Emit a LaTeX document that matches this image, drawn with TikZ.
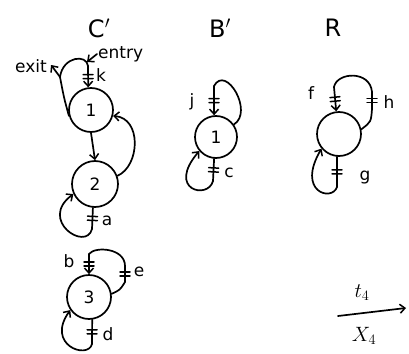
\documentclass[tikz,border=0pt]{standalone}
\usepackage{fontspec}
\setmainfont{DejaVu Sans}
\usetikzlibrary{arrows.meta,decorations.markings}
\tikzset{
  ln/.style={line width=1.7pt, line cap=round, line join=round},
  tip/.style={-{Straight Barb[length=5pt,width=9pt,line width=1.5pt]}},
  state/.style={circle, draw, ln, minimum size=#1, inner sep=0pt, font=\fontsize{17}{17}\selectfont},
  state/.default=44pt,
  lbl/.style={font=\fontsize{17}{17}\selectfont, inner sep=1pt},
  ttl/.style={font=\fontsize{24}{24}\selectfont, inner sep=0pt},
  cutbars/.style={postaction={decorate}, decoration={markings,
    mark=at position 0.5 with {\draw[-, line width=1.5pt] (-2pt,-5pt) -- (-2pt,5pt) (2pt,-5pt) -- (2pt,5pt);}}}
}
\begin{document}
\begin{tikzpicture}[x=1pt,y=-1pt]
\useasboundingbox (0,0) rectangle (409,353);
\fill[white] (0,0) rectangle (409,353);

% titles
\node[ttl] (tc) at (99,28) {C$'$};
\node[ttl] (tb) at (220,28) {B$'$};
\node[ttl] (tr) at (333,28) {R};

% ---------- C' ----------
\node[state] (n1) at (91,110) {1};
\node[state=46pt] (n2) at (95,184) {2};
\node[state] (n3) at (89,297) {3};

% k loop with exit / entry
\coordinate (br1) at (60,77);
\coordinate (ex) at (51,65);
\coordinate (kt) at (88,66);
\coordinate (ken) at (87,62);
\draw[ln] (n1.195) .. controls (64,98) .. (br1);
\draw[ln,tip] (br1) -- (ex);
\draw[ln] (br1) .. controls (63,56) and (87,54) .. (kt);
\draw[ln,tip,cutbars] (kt) -- (n1.97);
\node[lbl,anchor=east] (exit) at (48,66) {exit};
\node[lbl,anchor=west] (entry) at (97,54) {entry};
\draw[ln,tip] (entry.west) -- (ken);
\node[lbl] (k) at (101,75) {k};

% 1 -> 2 and 2 -> 1
\draw[ln,tip] (n1.south) -- (n2.north);
\draw[ln,tip] (n2.20) .. controls (140,166) and (142,118) .. (n1.-15);

% a loop on 2
\coordinate (a2) at (92,229);
\draw[ln,cutbars] (n2.-95) -- (a2);
\draw[ln,tip] (a2) .. controls (86,252) and (38,220) .. (n2.205);
\node[lbl] (la) at (107,221) {a};

% loops on 3
\coordinate (e3a) at (125,282);
\coordinate (e3b) at (125,266);
\coordinate (b3) at (89,254);
\draw[ln] (n3.8) .. controls (120,290) .. (e3a);
\draw[ln,cutbars] (e3a) -- (e3b);
\draw[ln] (e3b) .. controls (125,248) and (95,246) .. (b3);
\draw[ln,tip,cutbars] (b3) -- (n3.north);
\coordinate (d3) at (92,344);
\draw[ln,cutbars] (n3.-82) -- (d3);
\draw[ln,tip] (d3) .. controls (88,360) and (45,345) .. (n3.215);
\node[lbl] (lb) at (69,261) {b};
\node[lbl] (le) at (139,272) {e};
\node[lbl] (ld) at (108,334) {d};

% ---------- B' ----------
\node[state=42pt] (nb) at (216,137) {1};
\coordinate (jt) at (214,86);
\draw[ln] (nb.35) .. controls (254,112) and (226,64) .. (jt);
\draw[ln,tip,cutbars] (jt) -- (nb.95);
\coordinate (cb) at (213,181);
\draw[ln,cutbars] (nb.-95) -- (cb);
\draw[ln,tip] (cb) .. controls (208,200) and (166,190) .. (nb.220);
\node[lbl] (lj) at (192,102) {j};
\node[lbl] (lc) at (229,173) {c};

% ---------- R ----------
\node[state=44pt] (nr) at (339,134) {};
\coordinate (ft) at (334,87);
\coordinate (h1) at (372,92);
\coordinate (h2) at (372,109);
\draw[ln,tip,cutbars] (ft) -- (nr.97);
\draw[ln] (ft) .. controls (337,72) and (370,70) .. (h1);
\draw[ln,cutbars] (h1) -- (h2);
\draw[ln] (h2) .. controls (371,122) .. (nr.12);
\coordinate (gb) at (337,187);
\draw[ln,cutbars] (nr.-95) -- (gb);
\draw[ln,tip] (gb) .. controls (332,202) and (296,192) .. (nr.220);
\node[lbl] (lf) at (311,93) {f};
\node[lbl] (lh) at (389,102) {h};
\node[lbl] (lg) at (365,178) {g};

% ---------- t4 / X4 ----------
\coordinate (ta) at (338,316);
\coordinate (tb2) at (406,308);
\draw[ln,tip] (ta) -- (tb2);
\node[lbl,font=\fontsize{20}{20}\selectfont] (t4) at (362,293) {$t_4$};
\node[lbl,font=\fontsize{20}{20}\selectfont] (x4) at (364,336) {$X_4$};
\end{tikzpicture}
\end{document}
